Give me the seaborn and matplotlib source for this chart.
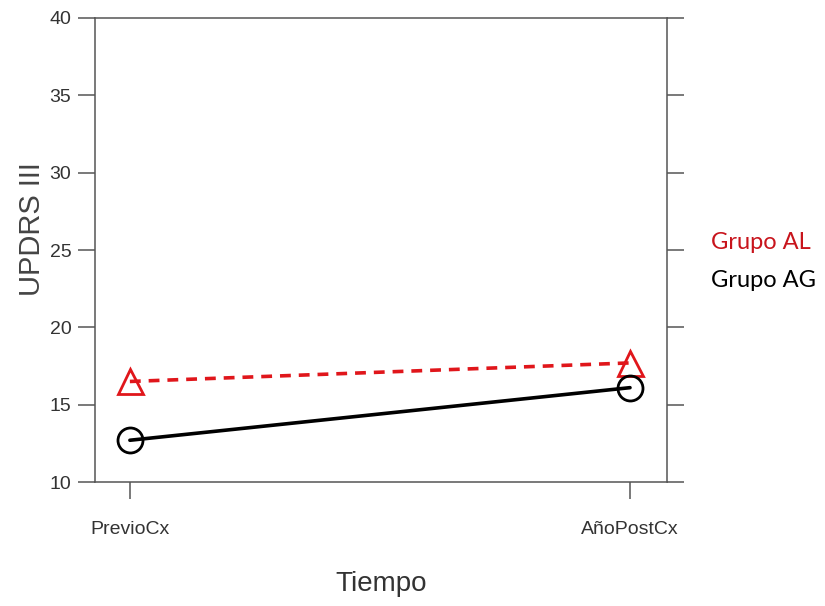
import matplotlib
matplotlib.use("Agg")
import matplotlib.pyplot as plt
import seaborn as sns
import pandas as pd

# Mean UPDRS III scores before surgery and one year after
tiempos = ["PrevioCx", "AñoPostCx"]
grupos = ["Grupo AL", "Grupo AG"]
updrs_al = [16.5, 17.7]
updrs_ag = [12.7, 16.1]
y_ticks = [10, 15, 20, 25, 30, 35, 40]

df = pd.DataFrame({
    "Tiempo": tiempos * 2,
    "pos": [0, 1, 0, 1],
    "Grupo": [grupos[0]] * 2 + [grupos[1]] * 2,
    "UPDRS III": updrs_al + updrs_ag,
})

sns.set_theme(style="white")
plt.rcParams["font.family"] = ["Liberation Sans", "DejaVu Sans"]

fig = plt.figure(figsize=(8.25, 6.06), dpi=100)
ax = fig.add_axes([0.115, 0.2046, 0.6935, 0.7657])

palette = {"Grupo AL": "#e0161b", "Grupo AG": "#000000"}
sns.lineplot(data=df, x="pos", y="UPDRS III", hue="Grupo", style="Grupo",
             hue_order=grupos, style_order=grupos, palette=palette,
             markers={"Grupo AL": "^", "Grupo AG": "o"},
             dashes={"Grupo AL": (3, 2.2), "Grupo AG": ""},
             linewidth=2.6, markersize=18, ax=ax)

for line in ax.lines:
    c = line.get_color()
    line.set_markerfacecolor("none")
    line.set_markeredgecolor(c)
    line.set_markeredgewidth(2.0)

ax.set_xlim(-0.07, 1.074)
ax.set_ylim(10, 40)
ax.set_xticks([0, 1])
ax.set_xticklabels(tiempos)
ax.set_yticks(y_ticks)

axis_col = "#555555"
for s in ax.spines.values():
    s.set_color(axis_col)
    s.set_linewidth(1.1)
ax.tick_params(axis="both", which="both", direction="out", length=12, width=1.1,
               color=axis_col, labelcolor="#333333", labelsize=14)
ax.tick_params(axis="y", right=True, left=True, pad=5)
ax.tick_params(axis="x", bottom=True, top=False, pad=16)

ax.set_xlabel("Tiempo", fontsize=20, color="#333333", labelpad=24)
ax.set_ylabel("UPDRS III", fontsize=21, color="#444444")
ax.yaxis.set_label_coords(-0.086, 0.545)

handles, labels = ax.get_legend_handles_labels()
leg = ax.legend(handles, labels, loc="upper left", bbox_to_anchor=(1.06, 0.56),
                frameon=False, handlelength=0, handletextpad=0,
                prop={"family": "Lato", "size": 17}, labelspacing=0.75,
                borderaxespad=0)
for h in leg.legend_handles:
    h.set_visible(False)
for txt, col in zip(leg.get_texts(), ["#c8141c", "#000000"]):
    txt.set_color(col)

fig.savefig("out.png", dpi=100, facecolor="white")
